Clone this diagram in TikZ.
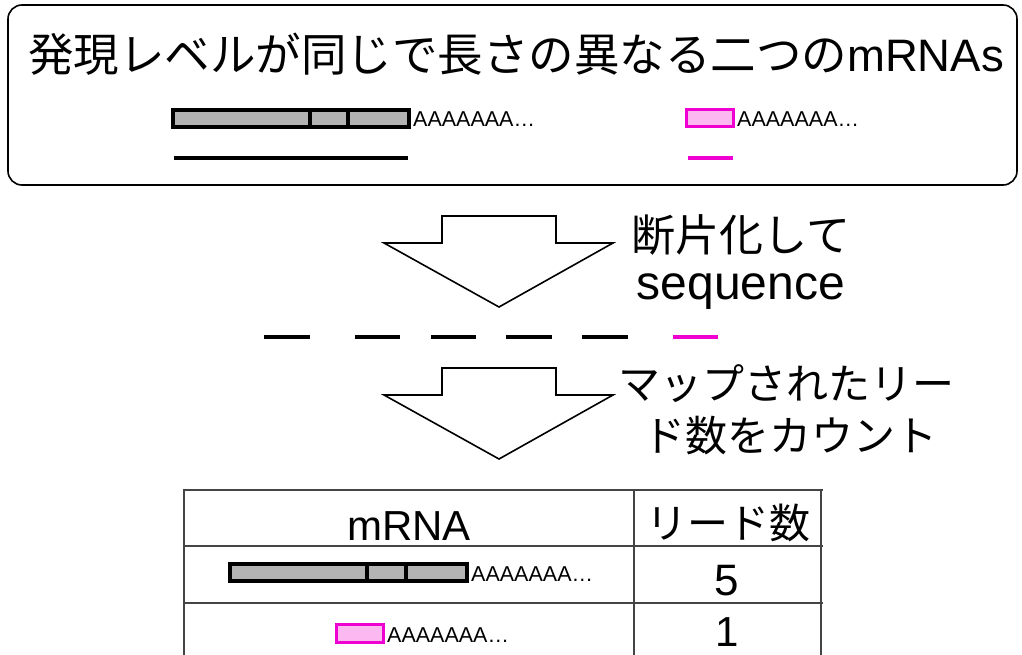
\documentclass[tikz,border=0pt]{standalone}
\usepackage{fontspec}
\setmainfont{Liberation Sans}
\newfontfamily\cjk{Noto Sans CJK JP}
\definecolor{barfill}{HTML}{B3B3B3}
\definecolor{pinkline}{HTML}{F000D0}
\definecolor{pinkfill}{HTML}{FCB8F0}
\definecolor{gridline}{HTML}{444444}
\tikzset{
  graybar/.style={draw=black, line width=3.2pt, fill=barfill},
  barsep/.style={draw=black, line width=3.2pt},
  pinkbar/.style={draw=pinkline, line width=3pt, fill=pinkfill},
  frag/.style={line width=4pt, black},
  pfrag/.style={line width=4pt, pinkline},
  polya/.style={font=\fontsize{21.5}{25}\selectfont, anchor=base west, inner sep=0pt},
  blockarrow/.style={draw=black, line width=1.6pt, fill=white, line join=miter},
  grid/.style={draw=gridline, line width=1.6pt},
  txt/.style={anchor=base, inner sep=0pt},
}
\begin{document}
\begin{tikzpicture}[x=1pt, y=-1pt]
\useasboundingbox (0,0) rectangle (1022,655);
% top box
\draw[line width=1.6pt, rounded corners=14pt] (8,5) rectangle (1017,185);
\node[txt, font=\fontsize{45.5}{54}\selectfont] (title) at (516,72) {{\cjk 発現レベルが同じで長さの異なる二つの}mRNAs};
% gray mRNA
\draw[graybar] (173,110) rectangle (409,127);
\draw[barsep] (310,110) -- (310,127) (348,110) -- (348,127);
\node[polya] (pa1) at (413,127) {AAAAAAA…};
\draw[frag] (174,158) -- (408,158);
% pink mRNA
\draw[pinkbar] (686,110) rectangle (733,127);
\node[polya] (pa2) at (737,127) {AAAAAAA…};
\draw[pfrag] (688,158) -- (733,158);
% arrow 1
\draw[blockarrow] (442,216) -- (556,216) -- (556,243) -- (613,243) -- (499,307) -- (384,243) -- (442,243) -- cycle;
\node[txt, font=\fontsize{44}{52}\selectfont\cjk] (s1a) at (741,251) {断片化して};
\node[txt, font=\fontsize{48}{56}\selectfont] (s1b) at (741,299) {sequence};
% fragments
\draw[frag] (264,337) -- (310,337);
\draw[frag] (355,337) -- (400,337);
\draw[frag] (431,337) -- (476,337);
\draw[frag] (506,337) -- (552,337);
\draw[frag] (582,337) -- (628,337);
\draw[pfrag] (673,337) -- (718,337);
% arrow 2
\draw[blockarrow] (442,368) -- (556,368) -- (556,395) -- (613,395) -- (499,459) -- (384,395) -- (442,395) -- cycle;
\node[txt, font=\fontsize{42}{50}\selectfont\cjk] (s2a) at (786,399) {マップされたリー};
\node[txt, font=\fontsize{42}{50}\selectfont\cjk] (s2b) at (790,451) {ド数をカウント};
% table
\draw[grid] (184,655) -- (184,490) -- (823,490);
\draw[grid] (821,490) -- (821,655);
\draw[grid] (634,490) -- (634,655);
\draw[grid] (184,546) -- (823,546);
\draw[grid] (184,603) -- (823,603);
\node[txt, font=\fontsize{42}{50}\selectfont] (h1) at (409,540) {mRNA};
\node[txt, font=\fontsize{41}{48}\selectfont\cjk] (h2) at (728,538) {リード数};
\draw[graybar] (230,564) rectangle (467,581);
\draw[barsep] (367,564) -- (367,581) (406,564) -- (406,581);
\node[polya] (pa3) at (471,581) {AAAAAAA…};
\draw[pinkbar] (336,624) rectangle (383,642);
\node[polya] (pa4) at (387,642) {AAAAAAA…};
\node[txt, font=\fontsize{44}{52}\selectfont] (n5) at (727,595) {5};
\node[txt, font=\fontsize{42}{50}\selectfont] (n1) at (727,646) {1};
\end{tikzpicture}
\end{document}
